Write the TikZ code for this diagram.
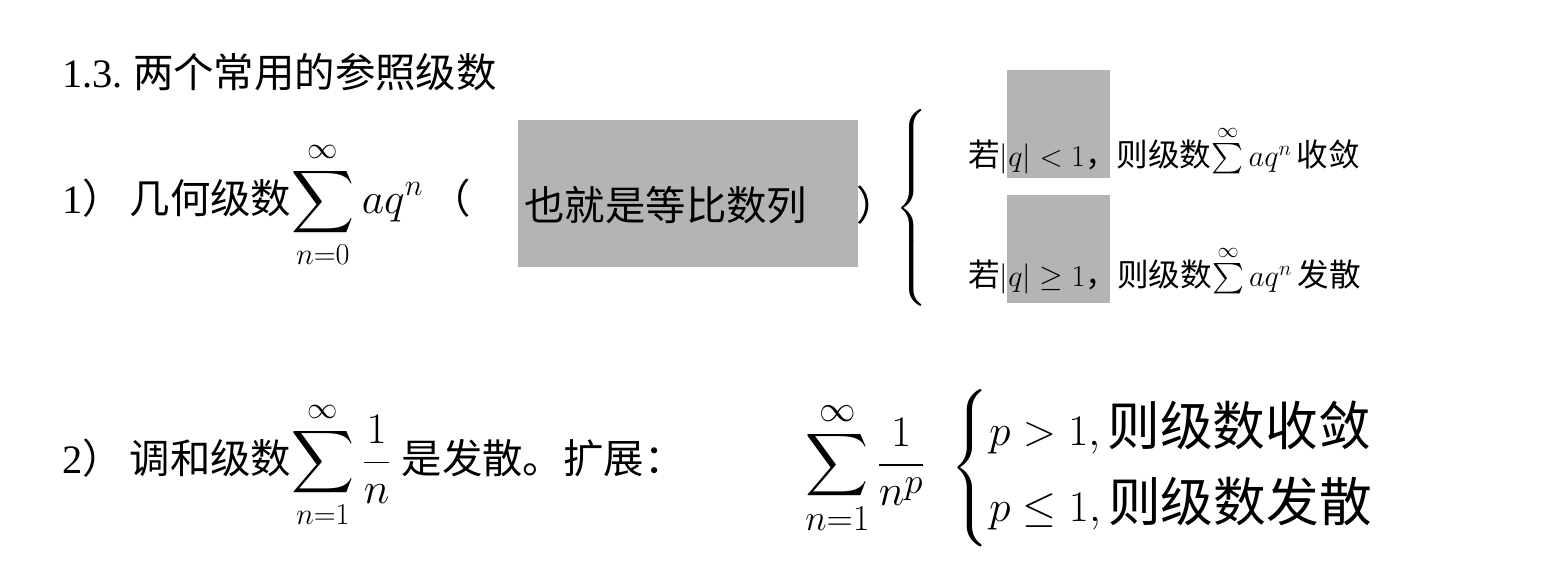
\documentclass[tikz,border=0pt]{standalone}
\usepackage{amsmath}
\usepackage{fontspec}
\setmainfont{Liberation Serif}
\newfontfamily\cjk{Noto Sans CJK SC}
\definecolor{shade}{RGB}{180,180,180}
\tikzset{
  txt/.style={anchor=west, inner sep=0pt, font=\fontsize{23}{27}\selectfont},
  small/.style={anchor=west, inner sep=0pt, font=\fontsize{18}{22}\selectfont},
  big/.style={anchor=west, inner sep=0pt, font=\fontsize{30}{36}\selectfont},
  shaded box/.style={fill=shade, draw=none}
}
\begin{document}
\begin{tikzpicture}[x=0.02cm, y=-0.02cm]
  \useasboundingbox (0,0) rectangle (1564,584);
  % shaded boxes
  \fill [shaded box] (518,120) rectangle (858,267);
  \fill [shaded box] (1007,70) rectangle (1110,178);
  \fill [shaded box] (1007,195) rectangle (1110,303);
  % title
  \node [txt] (title) at (62,72) {1.3.~{\cjk 两个常用的参照级数}};
  % geometric series
  \node [txt] (geo) at (62,205) {1{\cjk ）}\,{\cjk 几何级数}$\displaystyle\sum_{n=0}^{\infty}aq^{n}$\,{\cjk （}};
  \node [txt] (geoin) at (524,205) {\cjk 也就是等比数列};
  \node [txt] (geoend) at (856,205) {\cjk ）};
  \node [anchor=west, inner sep=0pt] (brace1) at (895,208)
    {\fontsize{20}{24}\selectfont$\left\{\rule{0pt}{2.05cm}\right.$};
  \node [small] (conv) at (968,150) {{\cjk 若}$|q|<1${\cjk ，则级数}$\sum\limits^{\infty}aq^{n}$\,{\cjk 收敛}};
  \node [small] (div) at (968,270) {{\cjk 若}$|q|\geq 1${\cjk ，则级数}$\sum\limits^{\infty}aq^{n}$\,{\cjk 发散}};
  % harmonic series
  \node [txt] (harm) at (62,465) {2{\cjk ）}\,{\cjk 调和级数}$\displaystyle\sum_{n=1}^{\infty}\frac{1}{n}$\ {\cjk 是发散。扩展：}};
  \node [big] (psum) at (805,468) {$\displaystyle\sum_{n=1}^{\infty}\frac{1}{n^{p}}$};
  \node [big] (pcase) at (950,468)
    {$\begin{cases}p>1,\text{\cjk 则级数收敛}\\ p\leq 1,\text{\cjk 则级数发散}\end{cases}$};
\end{tikzpicture}
\end{document}
